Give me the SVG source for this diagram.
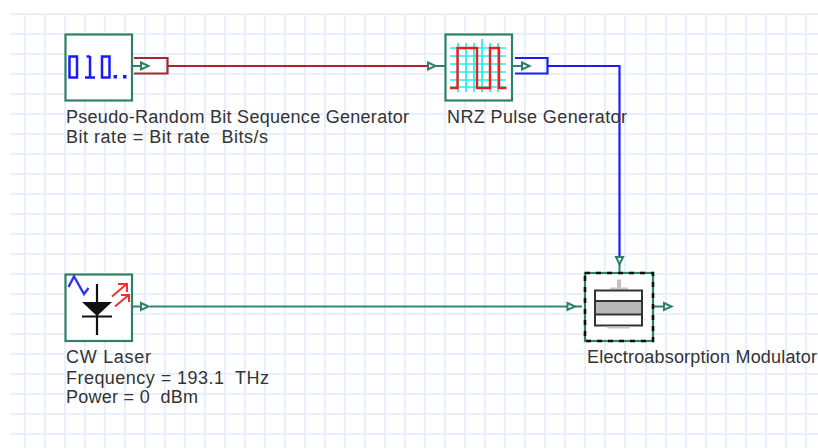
<svg xmlns="http://www.w3.org/2000/svg" width="818" height="448" viewBox="0 0 818 448">
<defs>
<style>
.box{fill:#fff;stroke:#2f8069;stroke-width:2.2}
.port{fill:#fff;stroke:#2f8069;stroke-width:2;stroke-linejoin:miter}
.stub{fill:none;stroke:#2f8069;stroke-width:2}
.t{font-family:"Liberation Sans",Arial,sans-serif;font-size:18px;fill:#333;white-space:pre}
.g{stroke:#e8effd;stroke-width:2.2}
</style>
<path id="p" class="port" d="M0-3.500L7.500 0L0 3.500Z"/>
</defs>
<rect width="818" height="448" fill="#fff"/>
<g id="grid-lines" class="g" fill="none">
<path d="M10 14H818M10 34H818M10 54H818M10 74H818M10 94H818M10 114H818M10 134H818M10 154H818M10 174H818M10 194H818M10 214H818M10 234H818M10 254H818M10 274H818M10 294H818M10 314H818M10 334H818M10 354H818M10 374H818M10 394H818M10 414H818M10 434H818"/>
<path d="M25 14V448M45 14V448M65 14V448M85 14V448M105 14V448M125 14V448M145 14V448M165 14V448M185 14V448M205 14V448M225 14V448M245 14V448M265 14V448M285 14V448M305 14V448M325 14V448M345 14V448M365 14V448M385 14V448M405 14V448M425 14V448M445 14V448M465 14V448M485 14V448M505 14V448M525 14V448M545 14V448M565 14V448M585 14V448M605 14V448M625 14V448M646 14V448M666 14V448M686 14V448M706 14V448M726 14V448M746 14V448M766 14V448M786 14V448M806 14V448"/>
</g>
<g id="connectors" fill="none">
<path d="M134 58H167.500V73.500H134M167.500 66H428" stroke="#a5282c" stroke-width="2.200"/>
<path d="M515 58H547.500V73.500H515M547.500 66H619.500V258" stroke="#1c1cf5" stroke-width="2.200"/>
<path d="M150 306.500H568" stroke="#2f8c70" stroke-width="2.200"/>
</g>
<g id="prbs">
<rect class="box" x="65.500" y="34.500" width="66.500" height="66"/>
<path class="stub" d="M131 66H141"/>
<use href="#p" x="141" y="66"/>
<g fill="none" stroke="#1a1aff" stroke-width="2.500">
<rect x="69.500" y="56.500" width="7.500" height="21"/>
<path d="M90 56V78M85 77.500H95M86.500 56.500H90"/>
<rect x="102" y="56.500" width="7.500" height="21"/>
</g>
<rect x="113.500" y="75" width="3.500" height="3.500" fill="#1a1aff"/>
<rect x="123" y="75" width="3.500" height="3.500" fill="#1a1aff"/>
<text class="t" x="66" y="123" textLength="343">Pseudo-Random Bit Sequence Generator</text>
<text class="t" x="66" y="143" textLength="202" xml:space="preserve">Bit rate = Bit rate  Bits/s</text>
</g>
<g id="nrz">
<rect class="box" x="445.500" y="34.500" width="66.500" height="66"/>
<path class="stub" d="M435 66H445M512 66H522"/>
<use href="#p" x="428" y="66"/>
<use href="#p" x="522" y="66"/>
<path d="M458 43V92M466 43V92M474 43V92M482 39V92M490 43V92M498 43V92M450 48H506M450 56H506M450 64H506M450 72H506M450 80H506M450 87H506" stroke="#22eeee" stroke-width="1.700" fill="none"/>
<path d="M450 88H457.500V48H477V88H490V48H499V88H506.500" stroke="#f01c1c" stroke-width="2.400" fill="none"/>
<text class="t" x="447" y="123" textLength="180">NRZ Pulse Generator</text>
</g>
<g id="cw-laser">
<rect class="box" x="65.500" y="274.500" width="66.500" height="66.500"/>
<path class="stub" d="M131 306.500H141"/>
<use href="#p" x="141" y="306.500"/>
<path d="M97 284V335M82 316.500H112" stroke="#111" stroke-width="2.200" fill="none"/>
<path d="M82 302H112L97 316Z" fill="#111"/>
<path d="M68.500 287L74 276.500L84 294L88.500 288" stroke="#3333ee" stroke-width="2.400" fill="none"/>
<path d="M112 296.500L126 284.500M118 284H127V292M115 306.500L128 295.500M121 295H129V302" stroke="#f03030" stroke-width="2" fill="none"/>
<text class="t" x="66" y="363" textLength="85">CW Laser</text>
<text class="t" x="66" y="383.500" textLength="203" xml:space="preserve">Frequency = 193.1  THz</text>
<text class="t" x="66" y="403" textLength="132" xml:space="preserve">Power = 0  dBm</text>
</g>
<g id="eam">
<rect class="box" x="585" y="273" width="68" height="68"/>
<rect x="585" y="273" width="68" height="68" fill="none" stroke="#111" stroke-width="2.600" stroke-dasharray="5 6"/>
<path class="stub" d="M575 306.500H582M654 306.500H664M619.500 264V272"/>
<use href="#p" x="567.500" y="306.500"/>
<use href="#p" x="664" y="306.500"/>
<use href="#p" transform="translate(619.500 257) rotate(90)"/>
<rect x="617" y="279.500" width="4" height="10" fill="#c0c0c0"/>
<rect x="610" y="287.500" width="18" height="2" fill="#c8c8c8"/>
<rect x="595" y="290.500" width="47" height="35" fill="#fff" stroke="#333" stroke-width="2"/>
<rect x="595" y="301" width="47" height="13.500" fill="#b8b8b8" stroke="#333" stroke-width="2"/>
<rect x="607" y="326.500" width="23" height="2" fill="#c8c8c8"/>
<text class="t" x="587" y="363" textLength="230">Electroabsorption Modulator</text>
</g>
</svg>
